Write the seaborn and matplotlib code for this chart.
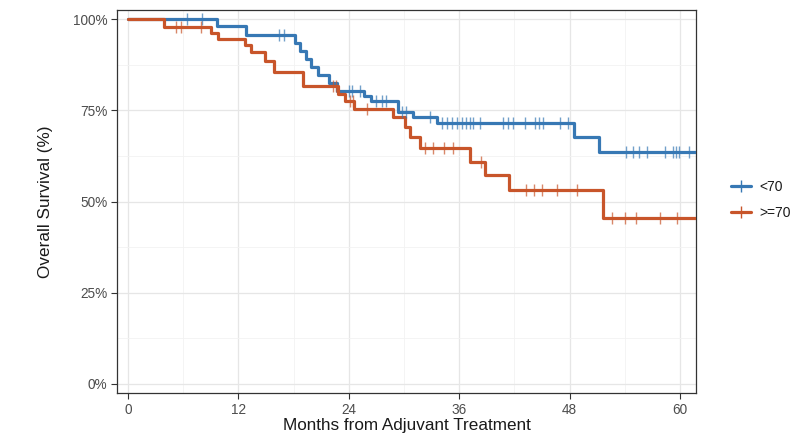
import numpy as np
import pandas as pd
import matplotlib
matplotlib.use("Agg")
import matplotlib.pyplot as plt
from matplotlib.lines import Line2D
from matplotlib.ticker import MultipleLocator, FuncFormatter
import seaborn as sns

# ---------------- data ----------------
groups = ["<70", ">=70"]

blue_times = [0, 9.7, 12.8, 18.2, 18.7, 19.3, 19.9, 20.6, 21.8, 22.7, 25.6, 26.4,
              29.3, 31.0, 33.6, 48.5, 51.2, 62.0]
blue_surv = [100, 98.0, 95.6, 93.4, 91.2, 89.0, 86.8, 84.6, 82.4, 80.2, 78.9, 77.5,
             74.5, 73.2, 71.5, 67.7, 63.6, 63.6]
blue_cens = [6.4, 8.0, 16.4, 17.0, 24.0, 24.3, 25.2, 27.0, 27.6, 28.0, 29.8, 30.2,
             32.8, 34.1, 34.7, 35.2, 35.8, 36.3, 36.7, 37.2, 37.5, 38.3, 40.8, 41.3,
             41.8, 43.2, 44.2, 44.7, 45.1, 47.0, 47.8, 54.1, 54.9, 55.5, 56.4, 58.4,
             59.2, 59.6, 59.9, 61.0]

orange_times = [0, 3.9, 9.0, 9.8, 12.7, 13.4, 14.9, 15.9, 19.0, 22.8, 23.6, 24.6,
                28.8, 30.1, 30.7, 31.7, 37.2, 38.8, 41.4, 51.6, 62.0]
orange_surv = [100, 97.9, 96.2, 94.6, 92.8, 91.0, 88.4, 85.4, 81.8, 79.6, 77.5, 75.4,
               73.2, 70.4, 67.7, 64.6, 60.8, 57.3, 53.2, 45.6, 45.6]
orange_cens = [5.2, 5.8, 7.9, 22.3, 22.6, 24.1, 24.4, 26.0, 32.3, 33.2, 34.3, 35.3,
               38.4, 43.3, 44.1, 45.0, 46.6, 48.8, 52.6, 54.0, 55.2, 57.8, 59.7]

x_ticks = [0, 12, 24, 36, 48, 60]
y_ticks = [0, 25, 50, 75, 100]

colors = {"<70": "#3778B4", ">=70": "#C8552A"}

# ---------------- build tables ----------------
curve = pd.concat([
    pd.DataFrame({"time": blue_times, "surv": blue_surv, "group": "<70"}),
    pd.DataFrame({"time": orange_times, "surv": orange_surv, "group": ">=70"}),
], ignore_index=True)


def surv_at(times, surv, t):
    idx = np.searchsorted(times, t, side="right") - 1
    return np.asarray(surv)[idx]


cens = pd.concat([
    pd.DataFrame({"time": blue_cens,
                  "surv": surv_at(blue_times, blue_surv, blue_cens), "group": "<70"}),
    pd.DataFrame({"time": orange_cens,
                  "surv": surv_at(orange_times, orange_surv, orange_cens), "group": ">=70"}),
], ignore_index=True)

# ---------------- plot ----------------
sns.set_theme(style="white")
plt.rcParams["font.family"] = ["Liberation Sans", "DejaVu Sans"]

fig = plt.figure(figsize=(8, 4.42), dpi=100)
ax = fig.add_axes([117 / 800, 49 / 442, 579 / 800, 383 / 442])

for g in groups:
    sub = curve[curve.group == g]
    sns.lineplot(data=sub, x="time", y="surv", ax=ax, color=colors[g],
                 drawstyle="steps-post", linewidth=2.3, legend=False,
                 estimator=None, sort=False, zorder=3)
    cs = cens[cens.group == g]
    sns.scatterplot(data=cs, x="time", y="surv", ax=ax, marker="|", s=80,
                    color=colors[g], linewidth=1.0, alpha=0.7, legend=False, zorder=4)

ax.set_xlim(-1.2, 61.74)
ax.set_ylim(-2.5, 102.5)
ax.set_xticks(x_ticks)
ax.set_yticks(y_ticks)
ax.yaxis.set_major_formatter(FuncFormatter(lambda v, p: f"{int(v)}%"))
ax.xaxis.set_minor_locator(MultipleLocator(6))
ax.yaxis.set_minor_locator(MultipleLocator(12.5))
ax.grid(True, which="major", color="#e6e6e6", linewidth=0.9, zorder=0)
ax.grid(True, which="minor", color="#f2f2f2", linewidth=0.6, zorder=0)
ax.set_axisbelow(True)

for s in ax.spines.values():
    s.set_color("#333333")
    s.set_linewidth(0.9)

ax.tick_params(axis="both", which="major", direction="out", length=4, width=0.8,
               color="#333333", labelsize=9.8, labelcolor="#4d4d4d", pad=3,
               bottom=True, left=True)
ax.tick_params(axis="both", which="minor", length=0)

ax.set_xlabel("Months from Adjuvant Treatment", fontsize=12.3, color="#1a1a1a", labelpad=1)
ax.set_ylabel("Overall Survival (%)", fontsize=12.3, color="#1a1a1a", labelpad=14)

handles = [Line2D([0], [0], color=colors[g], linewidth=2.3, marker="|",
                  markersize=9, markeredgewidth=1.0) for g in groups]
fig.legend(handles, groups, loc="center left", bbox_to_anchor=(718 / 800, 1 - 200 / 442),
           frameon=False, fontsize=10, handlelength=1.5, labelspacing=0.85,
           handletextpad=0.6, labelcolor="#1a1a1a")

fig.savefig("out.png", dpi=100)
